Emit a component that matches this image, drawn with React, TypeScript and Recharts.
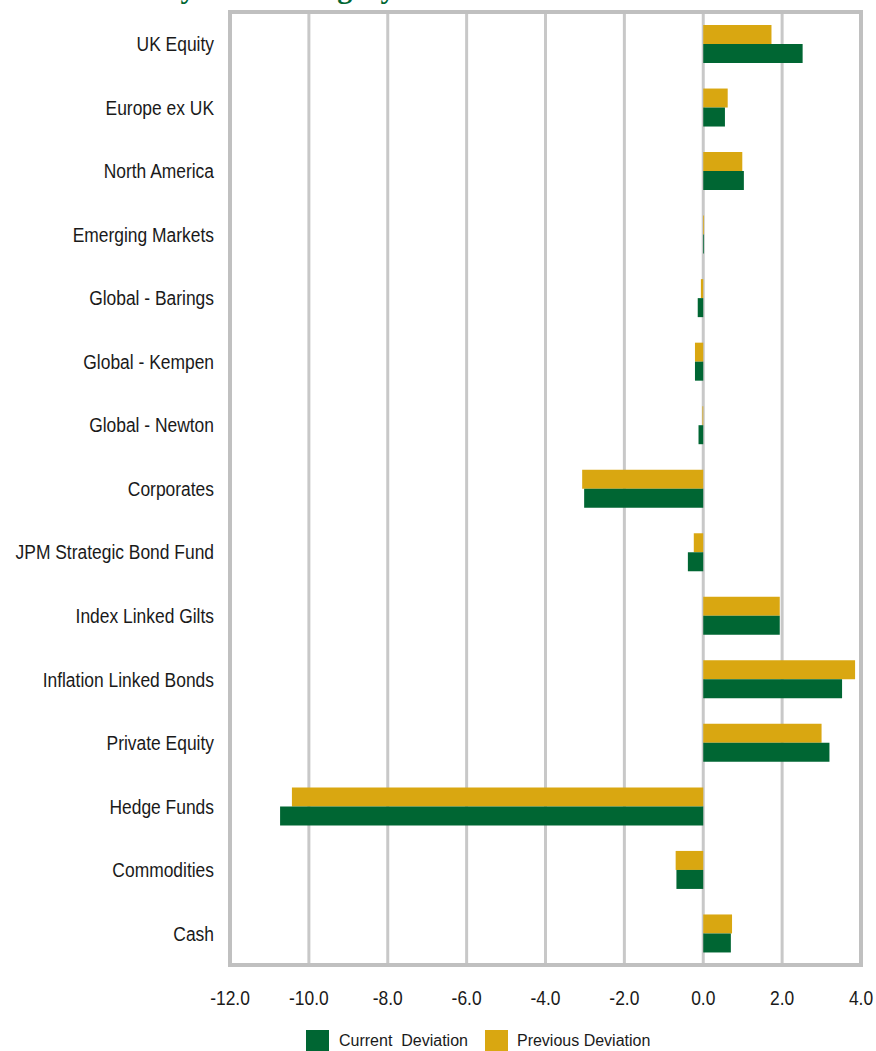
import React from "react";
import {
  BarChart,
  Bar,
  XAxis,
  YAxis,
  CartesianGrid,
  ReferenceArea,
} from "recharts";

const categories = [
  "UK Equity",
  "Europe ex UK",
  "North America",
  "Emerging Markets",
  "Global - Barings",
  "Global - Kempen",
  "Global - Newton",
  "Corporates",
  "JPM Strategic Bond Fund",
  "Index Linked Gilts",
  "Inflation Linked Bonds",
  "Private Equity",
  "Hedge Funds",
  "Commodities",
  "Cash",
];

const currentDeviation = [
  2.52, 0.55, 1.03, 0.02, -0.14, -0.21, -0.12, -3.02, -0.39, 1.94, 3.52, 3.2,
  -10.73, -0.68, 0.7,
];

const previousDeviation = [
  1.73, 0.62, 0.99, 0.02, -0.06, -0.21, -0.02, -3.07, -0.24, 1.94, 3.85, 3.0,
  -10.43, -0.7, 0.73,
];

const xTicks = [-12, -10, -8, -6, -4, -2, 0, 2, 4];

const data = categories.map((name, i) => ({
  name,
  current: currentDeviation[i],
  previous: previousDeviation[i],
}));

const GREEN = "#006633";
const GOLD = "#D9A711";
const TEXT = "#1a1a1a";
const sans = '"Liberation Sans", Arial, sans-serif';

// no narrow font installed, so squeeze the regular one
const CategoryTick = (props: any) => {
  const { x, y, payload } = props;
  return (
    <g transform={`translate(${x},${y})`}>
      <text
        transform="scale(0.83,1)"
        textAnchor="end"
        dy="0.355em"
        fontSize={21}
        fontFamily={sans}
        fill={TEXT}
      >
        {payload.value}
      </text>
    </g>
  );
};

const ValueTick = (props: any) => {
  const { x, y, payload } = props;
  return (
    <g transform={`translate(${x},${y})`}>
      <text
        transform="scale(0.83,1)"
        textAnchor="middle"
        dy="0.71em"
        fontSize={21}
        fontFamily={sans}
        fill={TEXT}
      >
        {Number(payload.value).toFixed(1)}
      </text>
    </g>
  );
};

export default function App() {
  return (
    <div
      style={{
        position: "absolute",
        left: 0,
        top: 0,
        width: 876,
        height: 1051,
        overflow: "hidden",
        background: "#fff",
      }}
    >
      <div
        style={{
          position: "absolute",
          left: 33,
          top: -27,
          fontFamily: '"Liberation Serif", serif',
          fontWeight: "bold",
          fontSize: 30,
          lineHeight: "30px",
          color: GREEN,
          whiteSpace: "nowrap",
        }}
      >
        Deviation by Asset Category
      </div>
      <div style={{ position: "absolute", left: 0, top: 0 }}>
        <BarChart
          width={876}
          height={1015}
          data={data}
          layout="vertical"
          margin={{ top: 12, right: 15, bottom: 10, left: 0 }}
          barGap={0}
          barSize={19}
        >
          <CartesianGrid
            horizontal={false}
            stroke="#c8c8c8"
            strokeWidth={3}
          />
          <ReferenceArea
            x1={-12}
            x2={4}
            fill="none"
            stroke="#c0c0c0"
            strokeWidth={4}
            ifOverflow="visible"
          />
          <XAxis
            type="number"
            domain={[-12, 4]}
            ticks={xTicks}
            axisLine={false}
            tickLine={false}
            tickMargin={19}
            height={40}
            tick={<ValueTick />}
          />
          <YAxis
            type="category"
            dataKey="name"
            width={230}
            interval={0}
            axisLine={false}
            tickLine={false}
            tickSize={0}
            tickMargin={16}
            tick={<CategoryTick />}
          />
          <Bar
            dataKey="previous"
            name="Previous Deviation"
            fill={GOLD}
            isAnimationActive={false}
          />
          <Bar
            dataKey="current"
            name="Current  Deviation"
            fill={GREEN}
            isAnimationActive={false}
          />
        </BarChart>
      </div>
      <div
        style={{
          position: "absolute",
          left: 306,
          top: 1030,
          display: "flex",
          alignItems: "center",
          fontFamily: sans,
          fontSize: 16,
          color: TEXT,
          whiteSpace: "pre",
        }}
      >
        <span
          style={{ width: 23, height: 22, background: GREEN, display: "inline-block" }}
        />
        <span style={{ marginLeft: 10 }}>Current  Deviation</span>
        <span
          style={{
            width: 23,
            height: 22,
            background: GOLD,
            display: "inline-block",
            marginLeft: 17,
          }}
        />
        <span style={{ marginLeft: 9 }}>Previous Deviation</span>
      </div>
    </div>
  );
}
